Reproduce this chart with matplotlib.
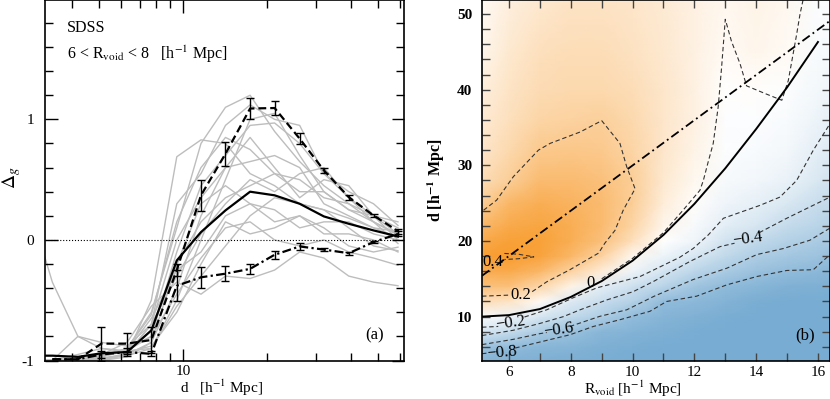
import numpy as np
import matplotlib
matplotlib.use("Agg")
import matplotlib.pyplot as plt
from matplotlib.colors import LinearSegmentedColormap, TwoSlopeNorm
from matplotlib.ticker import FixedLocator, FixedFormatter, NullFormatter, MultipleLocator

plt.rcParams['font.family'] = ['Liberation Serif', 'DejaVu Serif']
plt.rcParams['mathtext.fontset'] = 'stix'

# ---------------- panel (a): profiles ----------------
d_bins = [2.8, 3.4, 4.2, 5.1, 6.3, 7.7, 9.5, 11.6, 14.2, 17.4, 21.3, 26.2, 32.0, 39.3, 48.2, 59.0]

mocks = [
    [-1, -1, -1, -0.97, -0.9, -0.6, 0.1, 0.8, 1.1, 1.2, 0.9, 0.65, 0.45, 0.3, 0.2, 0.1],
    [-1, -1, -1, -1, -0.95, -0.7, 0.3, 0.55, 0.95, 1.12, 1.0, 0.95, 0.55, 0.35, 0.15, 0.05],
    [-1, -1, -1, -0.98, -0.95, -0.5, 0.69, 0.83, 0.8, 0.55, 0.45, 0.3, 0.25, 0.18, 0.1, 0.02],
    [-1, -1, -0.98, -0.95, -0.92, -0.8, -0.1, 0.45, 0.7, 0.95, 0.97, 0.8, 0.55, 0.4, 0.3, 0.12],
    [-1, -1, -1, -1, -0.95, -0.85, -0.4, 0.2, 0.6, 0.85, 0.6, 0.35, 0.5, 0.45, 0.2, 0.05],
    [0.3, -0.35, -0.8, -0.9, -0.93, -0.75, -0.2, 0.3, 0.45, 0.3, 0.15, 0.2, 0.1, -0.05, -0.1, -0.06],
    [-1, -1, -1, -0.97, -0.92, -0.9, -0.55, -0.3, -0.05, 0.2, 0.35, 0.3, 0.25, 0.1, -0.05, -0.09],
    [-1, -1, -0.8, -0.85, -0.88, -0.7, -0.3, 0.05, 0.3, 0.5, 0.4, 0.55, 0.6, 0.35, 0.2, 0.0],
    [-1, -1, -1, -0.95, -0.85, -0.55, -0.35, -0.45, -0.3, -0.32, -0.25, -0.1, -0.15, -0.3, -0.35, -0.38],
    [-1, -1, -1, -0.96, -0.9, -0.8, -0.45, -0.15, 0.1, 0.15, 0.0, -0.05, 0.0, -0.1, -0.15, -0.21],
    [-1, -1, -1, -0.99, -0.94, -0.7, 0.0, 0.35, 0.6, 0.65, 0.7, 0.6, 0.3, 0.2, 0.1, 0.07],
    [-1, -1, -1, -1, -0.97, -0.85, -0.2, 0.15, 0.35, 0.45, 0.55, 0.5, 0.35, 0.3, 0.15, -0.03],
    [-1, -1, -1, -0.97, -0.9, -0.62, 0.15, 0.6, 0.85, 0.75, 0.55, 0.4, 0.4, 0.25, 0.15, 0.04],
    [-1, -1, -1, -0.95, -0.93, -0.88, -0.6, -0.2, 0.15, 0.05, 0.1, 0.2, 0.05, 0.05, 0.0, -0.1],
    [-1, -1, -0.95, -0.9, -0.92, -0.65, -0.25, -0.1, 0.2, 0.3, 0.25, 0.1, 0.15, 0.15, 0.05, 0.0],
    [-1, -1, -1, -0.98, -0.96, -0.9, -0.5, 0.0, 0.5, 1.0, 1.05, 0.7, 0.4, 0.25, 0.2, 0.15],
]
mock_mean = [-0.96, -0.96, -0.97, -0.94, -0.93, -0.75, -0.17, 0.065, 0.245, 0.40,
             0.37, 0.30, 0.195, 0.134, 0.079, 0.029]

sdss_hi = [np.nan, -0.99, -0.99, -0.86, -0.86, -0.83, -0.25, 0.37, 0.715, 1.09,
           1.094, 0.84, 0.577, 0.355, 0.203, 0.073]
sdss_hi_err = [np.nan, np.nan, np.nan, 0.14, 0.09, 0.11, 0.05, 0.13, 0.10, 0.087,
               0.06, 0.045, 0.02, 0.02, 0.015, 0.02]
sdss_lo = [np.nan, -0.99, -0.99, -0.95, -0.93, -0.945, -0.38, -0.31, -0.28, -0.24,
           -0.123, -0.054, -0.08, -0.11, -0.018, 0.05]
sdss_lo_err = [np.nan, np.nan, np.nan, 0.03, 0.03, 0.02, 0.13, 0.086, 0.06, 0.04,
               0.035, 0.03, 0.015, 0.012, 0.01, 0.02]

# ---------------- panel (b): map ----------------
R_grid = [5.1, 6, 7, 8, 9, 10, 11, 12, 13, 14, 15, 16, 16.5]
d_grid = [4, 6, 8, 10, 12, 14, 16, 18, 20, 22, 25, 28, 32, 36, 40, 45, 52]
delta_map = [
    [-0.9, -0.95, -0.95, -0.97, -0.98, -1.0, -1.0, -1.0, -1.0, -1.0, -1.0, -1.0, -1.0],
    [-0.72, -0.8, -0.88, -0.9, -0.95, -0.97, -1.0, -1.0, -1.0, -1.0, -1.0, -1.0, -1.0],
    [-0.3, -0.42, -0.62, -0.75, -0.88, -0.92, -0.95, -0.98, -1.0, -1.0, -1.0, -1.0, -1.0],
    [-0.05, -0.12, -0.3, -0.45, -0.6, -0.8, -0.9, -0.93, -0.97, -1.0, -1.0, -1.0, -1.0],
    [0.15, 0.12, 0.02, -0.25, -0.4, -0.55, -0.8, -0.85, -0.92, -0.97, -1.0, -1.0, -1.0],
    [0.28, 0.28, 0.18, 0.05, -0.2, -0.37, -0.52, -0.7, -0.82, -0.88, -0.93, -0.95, -0.96],
    [0.37, 0.38, 0.32, 0.2, 0.08, -0.13, -0.32, -0.5, -0.63, -0.74, -0.8, -0.85, -0.88],
    [0.43, 0.44, 0.41, 0.32, 0.2, 0.03, -0.14, -0.29, -0.46, -0.6, -0.67, -0.72, -0.78],
    [0.38, 0.42, 0.42, 0.36, 0.28, 0.14, 0.0, -0.12, -0.33, -0.45, -0.55, -0.62, -0.65],
    [0.32, 0.38, 0.4, 0.36, 0.3, 0.19, 0.04, -0.06, -0.21, -0.3, -0.43, -0.52, -0.57],
    [0.22, 0.32, 0.36, 0.34, 0.3, 0.22, 0.08, 0.01, -0.12, -0.18, -0.28, -0.4, -0.44],
    [0.15, 0.22, 0.3, 0.3, 0.28, 0.22, 0.1, 0.03, -0.06, -0.1, -0.15, -0.28, -0.34],
    [0.11, 0.17, 0.24, 0.25, 0.24, 0.19, 0.11, 0.05, -0.03, -0.05, -0.09, -0.2, -0.26],
    [0.09, 0.14, 0.19, 0.2, 0.21, 0.17, 0.11, 0.06, -0.02, -0.03, -0.05, -0.14, -0.19],
    [0.07, 0.12, 0.16, 0.17, 0.17, 0.15, 0.11, 0.06, 0.0, 0.01, -0.02, -0.09, -0.12],
    [0.04, 0.1, 0.14, 0.15, 0.15, 0.13, 0.1, 0.06, 0.02, 0.04, 0.02, -0.05, -0.07],
    [0.02, 0.07, 0.1, 0.12, 0.12, 0.11, 0.09, 0.06, 0.03, 0.05, 0.03, -0.03, -0.04],
]

# contour paths (nan = gap for the label)
nan = np.nan
c_p04_R = [5.85, 6.3, 6.8, 6.3, 5.85]
c_p04_d = [18.35, 18.25, 17.9, 17.65, 17.55]
c_p02_R = [5.125, 6.05, nan, 6.75, 7.22, 7.97, 8.9, 9.1, 9.43, 9.7, 10.08, 9.81, 9.59, 9.0,
           8.3, 7.33, 6.95, 6.14, 5.6, 5.125]
c_p02_d = [12.7, 12.85, nan, 13.3, 14.6, 16.2, 18.4, 19.7, 21.4, 24.1, 26.9, 29.8, 32.9, 35.9,
           34.4, 32.9, 32.0, 28.5, 25.4, 23.9]
c_0_R = [9.0, 10.0, 11.0, 11.64, 12.18, 12.29, 12.45, 12.61, 12.77, 12.88, 13.0, 13.2, 13.48,
         13.69, 14.34, 14.83, 15.04, 15.31, 15.42, 15.52]
c_0_d = [15.0, 17.7, 21.1, 24.1, 26.7, 28.0, 30.5, 32.9, 37.7, 42.9, 49.3, 46.4, 43.4,
         40.5, 39.4, 38.6, 41.2, 47.3, 50.0, 51.9]
c_m02_R = [5.125, 5.65, nan, 6.5, 7.22, 8.08, 8.84, 9.59, 10.24, 10.7, 11.53, 11.96, 12.45,
           12.94, 14.12, 14.77, 15.31, 15.85, 16.39]
c_m02_d = [8.6, 8.7, nan, 9.95, 10.9, 12.5, 13.8, 14.6, 15.3, 16.2, 17.85, 19.0, 20.8,
           23.0, 24.7, 25.8, 28.0, 32.0, 35.5]
c_m04_R = [5.125, 6.14, 7.0, 7.76, 8.3, 9.16, 10.02, 10.7, 11.86, 12.83, 13.3, nan, 14.1,
           14.99, 15.74, 16.39]
c_m04_d = [7.5, 8.2, 9.1, 10.0, 10.9, 12.2, 13.3, 14.7, 17.3, 19.25, 19.7, nan, 21.1,
           23.0, 24.5, 25.8]
c_m06_R = [5.125, 6.14, 7.0, 7.22, nan, 7.97, 8.94, 9.81, 10.7, 11.96, 13.05, 14.02, 14.88,
           15.74, 16.39]
c_m06_d = [6.3, 7.0, 7.75, 7.9, nan, 8.7, 10.04, 10.9, 12.7, 14.9, 16.4, 18.2, 19.0,
           20.1, 21.7]
c_m08_R = [5.125, 5.35, nan, 6.2, 7.11, 7.97, 8.73, 9.6, 10.56, 11.1, 12.07, 13.05, 14.02,
           14.99, 15.85, 16.39]
c_m08_d = [5.1, 5.2, nan, 5.85, 6.75, 7.6, 8.7, 9.6, 10.7, 12.0, 12.7, 14.2, 15.3,
           16.1, 16.2, 18.2]

lab_text = ['0.4', '0.2', '0', '\u22120.2', '\u22120.4', '\u22120.6', '\u22120.8']
lab_R = [5.47, 6.39, 8.65, 6.06, 13.72, 7.6, 5.77]
lab_d = [17.25, 12.9, 14.4, 9.2, 20.3, 8.3, 5.25]
lab_rot = [0, 0, 0, 8, 8, 8, 5]

# model curves
fit_R = [5.125, 6.0, 7.0, 8.0, 9.0, 10.0, 11.0, 12.0, 13.0, 14.0, 15.0, 16.0]
fit_d = [10.0, 10.2, 11.0, 12.6, 14.7, 17.4, 20.8, 24.9, 29.6, 34.8, 40.3, 46.3]
lin_R = [5.125, 16.39]
lin_d = [15.4, 49.1]

# ---------------- figure ----------------
fig = plt.figure(figsize=(8.3, 3.99), dpi=100)
axa = fig.add_axes([45 / 830, 38.5 / 399, 359 / 830, 360.5 / 399])
axb = fig.add_axes([482 / 830, 38.5 / 399, 348 / 830, 360.5 / 399])

# panel (a)
for m in mocks:
    axa.plot(d_bins, m, color='#bdbdbd', lw=1.0, zorder=1)
axa.axhline(0, color='k', ls=':', lw=0.8, zorder=2)
axa.plot(d_bins, mock_mean, color='k', lw=1.6, zorder=3)
axa.plot(d_bins, sdss_hi, color='k', lw=1.6, dashes=(3.5, 1.8), zorder=4)
axa.plot(d_bins, sdss_lo, color='k', lw=1.6, dashes=(4, 1.5, 1, 1.5), zorder=4)
for y, e in ((sdss_hi, sdss_hi_err), (sdss_lo, sdss_lo_err)):
    ok = [i for i in range(len(d_bins)) if not np.isnan(e[i])]
    axa.errorbar([d_bins[i] for i in ok], [y[i] for i in ok], yerr=[e[i] for i in ok],
                 fmt='none', ecolor='k', elinewidth=1.0, capsize=3, capthick=1.0, zorder=5)

axa.set_xscale('log')
axa.set_xlim(3.2, 62)
axa.set_ylim(-1, 1.99)
axa.xaxis.set_major_locator(FixedLocator([10]))
axa.xaxis.set_major_formatter(FixedFormatter(['10']))
axa.xaxis.set_minor_locator(FixedLocator([4, 5, 6, 7, 8, 9, 20, 30, 40, 50, 60]))
axa.xaxis.set_minor_formatter(NullFormatter())
axa.yaxis.set_major_locator(FixedLocator([-1, 0, 1]))
axa.yaxis.set_major_formatter(FixedFormatter(['-1', '0', '1']))
axa.yaxis.set_minor_locator(MultipleLocator(0.2))
axa.tick_params(which='both', direction='in', top=True, right=True, labelsize=11, width=1.0)
axa.tick_params(which='major', length=9)
axa.tick_params(which='minor', length=6)
axa.tick_params(axis='x', which='major', pad=3)
axa.tick_params(axis='y', which='major', pad=8)
for s in axa.spines.values():
    s.set_linewidth(1.2)
axa.text(0.061, 0.922, 'SDSS', transform=axa.transAxes, fontsize=11.5, va='center')
axa.text(0.061, 0.85, r'6 < R$_{\rm void}$ < 8   [h$^{-1}$ Mpc]', transform=axa.transAxes,
         fontsize=11.5, va='center')
axa.text(0.919, 0.071, '(a)', transform=axa.transAxes, fontsize=12, ha='center', va='center')
axa.text(0.493, -0.077, r'd   [h$^{-1}$ Mpc]', transform=axa.transAxes, fontsize=11,
         ha='center', va='center')
axa.text(-0.092, 0.506, r'$\Delta_g$', transform=axa.transAxes, fontsize=14,
         ha='center', va='center', rotation=90)

# panel (b)
cmap = LinearSegmentedColormap.from_list('bo', ['#78acd2', '#ffffff', '#f7941d'])
norm = TwoSlopeNorm(vmin=-1.0, vcenter=0.0, vmax=0.48)
RR, DD = np.meshgrid(R_grid, d_grid)
axb.pcolormesh(RR, DD, np.array(delta_map), cmap=cmap, norm=norm, shading='gouraud',
               zorder=0, rasterized=True)

for cr, cd in ((c_p04_R, c_p04_d), (c_p02_R, c_p02_d), (c_0_R, c_0_d), (c_m02_R, c_m02_d),
               (c_m04_R, c_m04_d), (c_m06_R, c_m06_d), (c_m08_R, c_m08_d)):
    axb.plot(cr, cd, color='#333333', lw=0.8, dashes=(4, 2.5), zorder=2)
axb.plot(fit_R, fit_d, color='k', lw=1.4, zorder=3)
axb.plot(lin_R, lin_d, color='k', lw=1.3, dashes=(5, 2, 1, 2), zorder=3)
for t, x, y, r in zip(lab_text, lab_R, lab_d, lab_rot):
    axb.text(x, y, t, fontsize=12, ha='center', va='center', rotation=r, zorder=4)

axb.set_xlim(5.125, 16.39)
axb.set_ylim(4.2, 51.85)
axb.xaxis.set_major_locator(MultipleLocator(2))
axb.xaxis.set_minor_locator(MultipleLocator(1))
axb.yaxis.set_major_locator(MultipleLocator(10))
axb.yaxis.set_minor_locator(MultipleLocator(2))
axb.tick_params(which='both', direction='in', top=True, right=True, labelsize=11,
                color='#444444', width=1.0)
axb.tick_params(which='major', length=6)
axb.tick_params(which='minor', length=6)
axb.tick_params(axis='x', which='major', pad=4)
axb.tick_params(axis='y', which='major', pad=7)
for lab in axb.get_yticklabels():
    lab.set_fontweight('bold')
for s in axb.spines.values():
    s.set_linewidth(1.2)
axb.text(0.928, 0.071, '(b)', transform=axb.transAxes, fontsize=12, ha='center', va='center')
axb.text(0.434, -0.079, r'R$_{\rm void}$ [h$^{-1}$ Mpc]', transform=axb.transAxes,
         fontsize=11, ha='center', va='center')
axb.text(-0.13, 0.5, r'd [h$^{\mathbf{-1}}$ Mpc]', transform=axb.transAxes, fontsize=11.5,
         ha='center', va='center', rotation=90, fontweight='bold')

fig.savefig('out.png', dpi=100)
